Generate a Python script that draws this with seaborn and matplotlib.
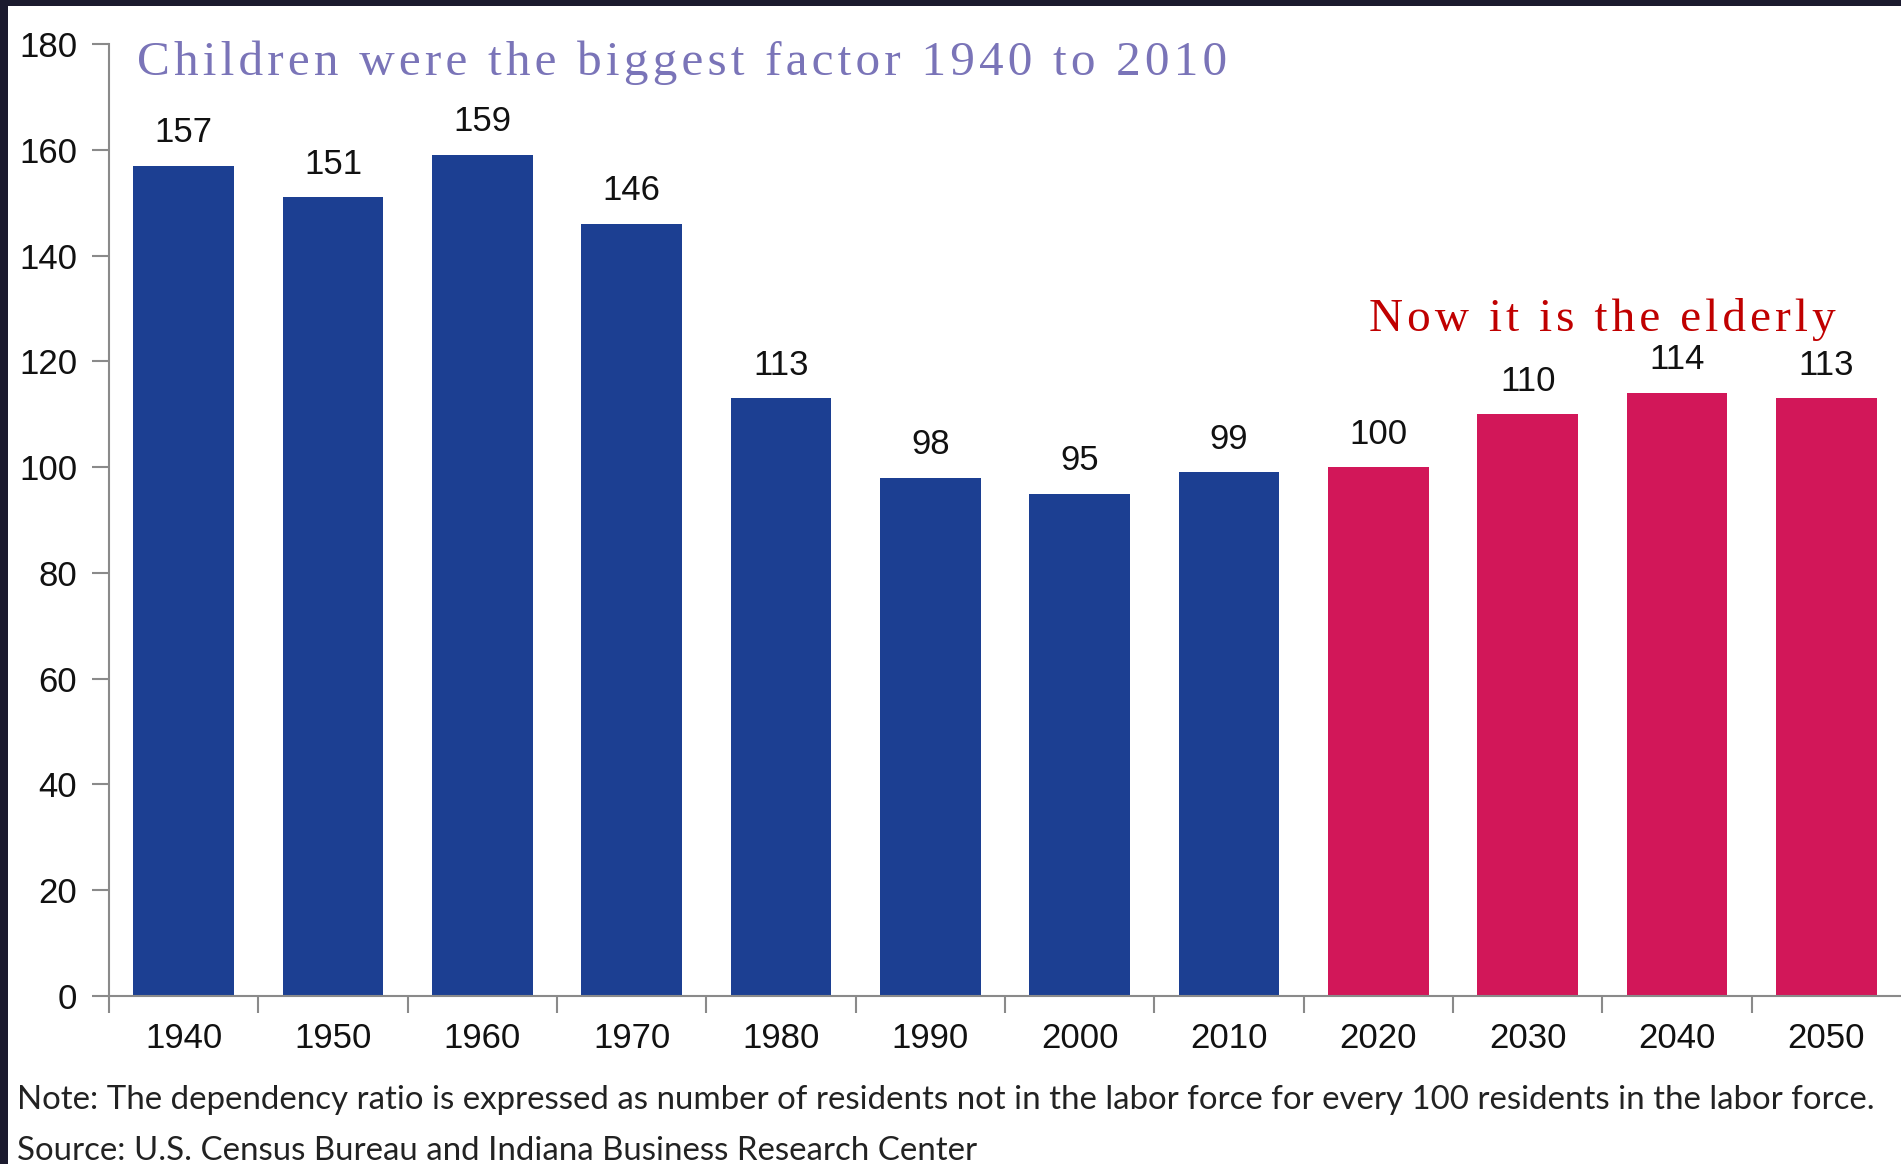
import numpy as np
import pandas as pd
import matplotlib
matplotlib.use("Agg")
import matplotlib.pyplot as plt
from matplotlib.patches import Rectangle
import seaborn as sns

# ---- data ----
years = ["1940", "1950", "1960", "1970", "1980", "1990", "2000", "2010",
         "2020", "2030", "2040", "2050"]
ratios = [157, 151, 159, 146, 113, 98, 95, 99, 100, 110, 114, 113]
periods = ["Children era"] * 8 + ["Elderly era"] * 4
y_ticks = [0, 20, 40, 60, 80, 100, 120, 140, 160, 180]

title_text = "Children were the biggest factor 1940 to 2010"
elderly_text = "Now it is the elderly"
note_text = ("Note: The dependency ratio is expressed as number of residents not in the "
             "labor force for every 100 residents in the labor force.")
source_text = "Source: U.S. Census Bureau and Indiana Business Research Center"

df = pd.DataFrame({"year": years, "ratio": ratios, "period": periods})

sns.set_theme(style="white")
plt.rcParams["font.family"] = ["Liberation Sans", "DejaVu Sans"]

BLUE = "#1c3f92"
PINK = "#d21759"
GRAY = "#8a8a8a"

W, H = 1901, 1164
fig = plt.figure(figsize=(W / 100, H / 100), dpi=100)
fig.patch.set_facecolor("white")
ax = fig.add_axes([109 / W, 168 / H, (W - 109) / W, (996 - 44) / H])
ax.set_facecolor("white")

sns.barplot(data=df, x="year", y="ratio", hue="period",
            palette={"Children era": BLUE, "Elderly era": PINK},
            dodge=False, width=0.675, saturation=1, legend=False,
            linewidth=0, ax=ax)

ax.set_xlim(-0.5, 11.5)
ax.set_ylim(0, 180)
ax.set_yticks(y_ticks)
ax.set_yticklabels([str(t) for t in y_ticks])
ax.set_xlabel("")
ax.set_ylabel("")

for s in ["top", "right"]:
    ax.spines[s].set_visible(False)
for s in ["left", "bottom"]:
    ax.spines[s].set_color(GRAY)
    ax.spines[s].set_linewidth(1.5)

ax.set_xticks(np.arange(-0.5, 11.0, 1.0), minor=True)
ax.tick_params(axis="x", which="major", bottom=True, length=0, pad=18.5,
               labelsize=25, labelcolor="#111111")
ax.tick_params(axis="x", which="minor", bottom=True, length=12, width=1.5,
               color=GRAY, direction="out")
ax.tick_params(axis="y", which="major", left=True, length=12, width=1.5,
               color=GRAY, pad=11, labelsize=25, labelcolor="#111111",
               direction="out")

for i, v in enumerate(ratios):
    ax.annotate(str(v), (i, v), xytext=(0, 17), textcoords="offset points",
                ha="center", va="baseline", fontsize=25, color="#111111")

hs = "\u200a"
spaced_title = hs.join(title_text)
spaced_elderly = hs.join(elderly_text)
fig.text(137 / W, 1 - 75 / H, spaced_title, fontsize=35.5, color="#7a74b8",
         family=["Liberation Serif", "DejaVu Serif"], va="baseline", ha="left")
fig.text(1369 / W, 1 - 331 / H, spaced_elderly, fontsize=34, color="#c00000",
         family=["Liberation Serif", "DejaVu Serif"], va="baseline", ha="left")

fig.text(17 / W, 1 - 1109 / H, note_text, fontsize=23.8, color="#222222",
         family=["Lato", "DejaVu Sans"], va="baseline", ha="left")
fig.text(17 / W, 1 - 1160 / H, source_text, fontsize=23.8, color="#222222",
         family=["Lato", "DejaVu Sans"], va="baseline", ha="left")

# dark frame bands at top and left edges
fig.add_artist(Rectangle((0, 1 - 6 / H), 1, 6 / H, transform=fig.transFigure,
                         facecolor="#1b1a2e", edgecolor="none", zorder=10))
fig.add_artist(Rectangle((0, 0), 8 / W, 1, transform=fig.transFigure,
                         facecolor="#1b1a2e", edgecolor="none", zorder=10))

fig.savefig("out.png", dpi=100, facecolor="white")
